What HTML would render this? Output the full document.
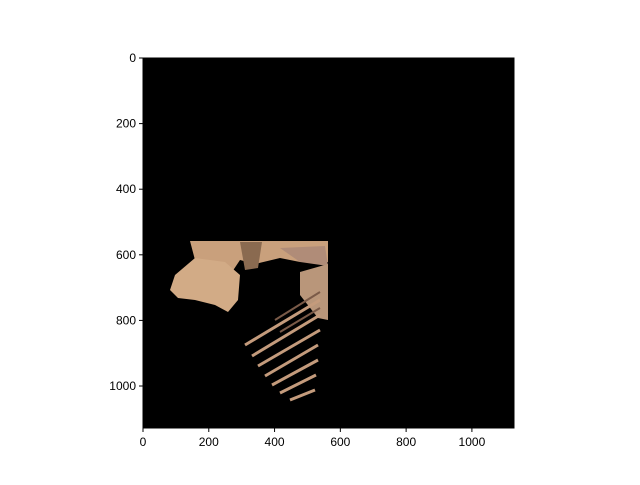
<!DOCTYPE html>
<html><head><style>
body{margin:0;background:#fff;font-family:"Liberation Sans",sans-serif;}
</style></head><body>
<svg id="c" width="640" height="480" xmlns="http://www.w3.org/2000/svg">
<rect width="640" height="480" fill="#fff"/>
<rect x="143" y="58" width="371" height="370" fill="#000"/>
<g>
<polygon points="190,241 328,241 328,262 300,262 280,258 255,264 240,260 232,272 215,268 195,260" fill="#c9a07c"/>
<polygon points="240,242 262,242 258,268 245,270" fill="#8a6a50"/>
<polygon points="280,248 325,246 328,266 300,262" fill="#b08c78"/>
<polygon points="175,275 195,258 225,262 240,275 238,300 228,312 215,305 195,300 178,298 170,290" fill="#d2ab86"/>
<polygon points="300,272 328,264 328,320 318,318 300,295" fill="#b9967a"/>
<g stroke="#c49b7c" stroke-width="3">
<line x1="245" y1="345" x2="320" y2="300"/><line x1="252" y1="356" x2="320" y2="315"/>
<line x1="258" y1="366" x2="320" y2="330"/><line x1="265" y1="376" x2="318" y2="345"/>
<line x1="272" y1="385" x2="318" y2="360"/><line x1="280" y1="393" x2="316" y2="375"/>
<line x1="290" y1="400" x2="315" y2="390"/>
</g>
<g stroke="#7a5a48" stroke-width="2">
<line x1="275" y1="320" x2="320" y2="292"/><line x1="280" y1="332" x2="320" y2="308"/>
</g>
</g>
<g id="ax" font-size="12" fill="#000"></g>
</svg>
<script>
const xTicks=[0,200,400,600,800,1000];
const yTicks=[0,200,400,600,800,1000];
const extent=[0,1128];
const x0=143,y0=58,w=371,h=370;
const sx=v=>x0+(v-extent[0])/(extent[1]-extent[0])*w;
const sy=v=>y0+(v-extent[0])/(extent[1]-extent[0])*h;
const ns="http://www.w3.org/2000/svg",ax=document.getElementById('ax');
function mk(t,a){const e=document.createElementNS(ns,t);for(const k in a)e.setAttribute(k,a[k]);ax.appendChild(e);return e;}
const fr=mk('rect',{x:x0,y:y0,width:w,height:h,fill:'none',stroke:'#000','stroke-width':1});


xTicks.forEach(v=>{const x=sx(v);
const l=mk('line',{x1:x,x2:x,y1:y0+h,y2:y0+h+4,stroke:'#000'});


const t=mk('text',{x:x,y:y0+h+18,'text-anchor':'middle'});t.textContent=v;

});
yTicks.forEach(v=>{const y=sy(v);
const l=mk('line',{x1:x0-4,x2:x0,y1:y,y2:y,stroke:'#000'});


const t=mk('text',{x:x0-7,y:y+4,'text-anchor':'end'});t.textContent=v;

});
</script>
</body></html>
